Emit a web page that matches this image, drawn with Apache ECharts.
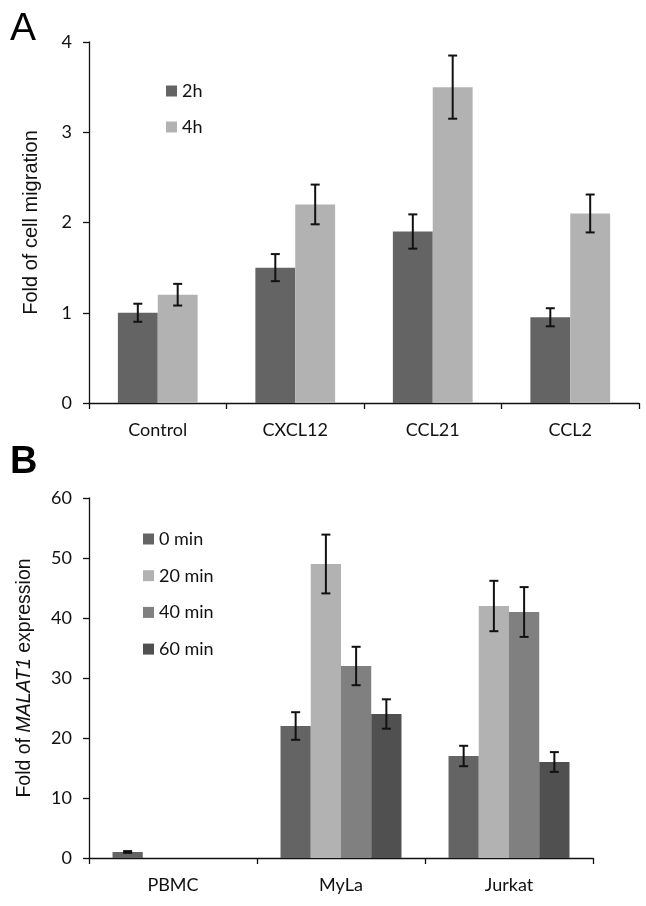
<!DOCTYPE html>
<html><head><meta charset="utf-8">
<script src="https://cdn.jsdelivr.net/npm/echarts@6/dist/echarts.min.js"></script>
<style>html,body{margin:0;padding:0;background:#fff}#c{width:646px;height:906px}</style>
</head><body><div id="c"></div>
<script>
// Panel A data
const catsA = ['Control', 'CXCL12', 'CCL21', 'CCL2'];
const seriesNamesA = ['2h', '4h'];
const valsA2h = [1.0, 1.5, 1.9, 0.95];
const errA2h = [0.10, 0.15, 0.19, 0.10];
const valsA4h = [1.2, 2.2, 3.5, 2.1];
const errA4h = [0.12, 0.22, 0.35, 0.21];
const ticksA = [0, 1, 2, 3, 4];

// Panel B data
const catsB = ['PBMC', 'MyLa', 'Jurkat'];
const seriesNamesB = ['0 min', '20 min', '40 min', '60 min'];
const valsB0 = [1.0, 22, 17];
const errB0 = [0.15, 2.3, 1.7];
const valsB20 = [null, 49, 42];
const errB20 = [null, 4.9, 4.2];
const valsB40 = [null, 32, 41];
const errB40 = [null, 3.2, 4.15];
const valsB60 = [null, 24, 16];
const errB60 = [null, 2.45, 1.65];
const ticksB = [0, 10, 20, 30, 40, 50, 60];

const colorsA = ['#646464', '#b2b2b2'];
const colorsB = ['#646464', '#b2b2b2', '#808080', '#505050'];
const bwA = 0.29, bwB = 0.18;
const LATO = 'Lato';
const FS = 18;

function errSeries(axisIdx, vals, errs, idx, n, frac) {
  const data = [];
  vals.forEach((v, i) => { if (v != null) data.push([i, v, errs[i]]); });
  return {
    type: 'custom', xAxisIndex: axisIdx, yAxisIndex: axisIdx, z: 5, silent: true,
    data: data,
    renderItem: function (params, api) {
      const ci = api.value(0), v = api.value(1), e = api.value(2);
      const c = api.coord([ci, v]);
      const band = api.size([1, 0])[0];
      const bw = band * frac;
      const x = c[0] - n * bw / 2 + bw * (idx + 0.5);
      const top = api.coord([ci, v + e])[1];
      const bot = api.coord([ci, v - e])[1];
      const cap = 4.5;
      const st = { stroke: '#111', lineWidth: 2 };
      return { type: 'group', children: [
        { type: 'line', shape: { x1: x, y1: top, x2: x, y2: bot }, style: st },
        { type: 'line', shape: { x1: x - cap, y1: top, x2: x + cap, y2: top }, style: st },
        { type: 'line', shape: { x1: x - cap, y1: bot, x2: x + cap, y2: bot }, style: st }
      ] };
    }
  };
}

function yAxisCfg(gi, ticks, nameRich, nameGap, nameSize) {
  return {
    gridIndex: gi, type: 'value', min: ticks[0], max: ticks[ticks.length - 1],
    interval: ticks[1] - ticks[0],
    axisLine: { show: true, lineStyle: { color: '#111', width: 1.3 } },
    axisTick: { show: true, length: 6, lineStyle: { color: '#111', width: 1.3 } },
    splitLine: { show: false },
    axisLabel: { margin: 17, color: '#111', fontFamily: LATO, fontSize: FS },
    name: nameRich.text, nameLocation: 'middle', nameGap: nameGap, nameRotate: 90,
    nameTextStyle: { color: '#111', fontFamily: 'Liberation Sans', fontSize: nameSize, rich: nameRich.rich }
  };
}
function xAxisCfg(gi, cats) {
  return {
    gridIndex: gi, type: 'category', data: cats,
    axisLine: { show: true, lineStyle: { color: '#111', width: 1.3 } },
    axisTick: { show: true, length: 6, interval: 0, alignWithLabel: false, lineStyle: { color: '#111', width: 1.3 } },
    axisLabel: { margin: 18, color: '#111', fontFamily: LATO, fontSize: FS, interval: 0 }
  };
}

const series = [];
[valsA2h, valsA4h].forEach((vals, i) => {
  series.push({ name: seriesNamesA[i], type: 'bar', xAxisIndex: 0, yAxisIndex: 0,
    data: vals, barWidth: (bwA * 100) + '%', barGap: '0%', itemStyle: { color: colorsA[i] } });
});
[[valsA2h, errA2h], [valsA4h, errA4h]].forEach((p, i) => series.push(errSeries(0, p[0], p[1], i, 2, bwA)));
const bVals = [valsB0, valsB20, valsB40, valsB60];
const bErrs = [errB0, errB20, errB40, errB60];
bVals.forEach((vals, i) => {
  series.push({ name: seriesNamesB[i], type: 'bar', xAxisIndex: 1, yAxisIndex: 1,
    data: vals.map(v => v == null ? '-' : v), barWidth: (bwB * 100) + '%', barGap: '0%', itemStyle: { color: colorsB[i] } });
});
bVals.forEach((vals, i) => series.push(errSeries(1, vals, bErrs[i], i, 4, bwB)));

const chart = echarts.init(document.getElementById('c'), null, { renderer: 'canvas' });
chart.setOption({
  animation: false,
  backgroundColor: '#fff',
  grid: [
    { left: 89, top: 42, width: 550, height: 361 },
    { left: 89, top: 498, width: 504, height: 360 }
  ],
  xAxis: [xAxisCfg(0, catsA), xAxisCfg(1, catsB)],
  yAxis: [
    yAxisCfg(0, ticksA, { text: 'Fold of cell migration', rich: {} }, 48, 20),
    yAxisCfg(1, ticksB, { text: '{n|Fold of }{i|MALAT1}{n| expression}', rich: {
      n: { fontFamily: 'Liberation Sans', fontSize: 19.5, color: '#111' },
      i: { fontFamily: 'Liberation Sans', fontSize: 19.5, color: '#111', fontStyle: 'italic' } } }, 54, 19.5)
  ],
  legend: [
    { data: seriesNamesA, orient: 'vertical', left: 161, top: 77, itemWidth: 11, itemHeight: 11, itemGap: 18,
      icon: 'rect', selectedMode: false, textStyle: { fontFamily: LATO, fontSize: FS, color: '#111', lineHeight: 18 } },
    { data: seriesNamesB, orient: 'vertical', left: 138, top: 525, itemWidth: 11, itemHeight: 11, itemGap: 18.7,
      icon: 'rect', selectedMode: false, textStyle: { fontFamily: LATO, fontSize: FS, color: '#111', lineHeight: 18 } }
  ],
  graphic: [
    { type: 'text', left: 10, top: 10, style: { text: 'A', font: '39px "Liberation Sans"', fill: '#000' } },
    { type: 'text', left: 10, top: 444, style: { text: 'B', font: 'bold 38px "Liberation Sans"', fill: '#000' } }
  ],
  series: series
});
</script></body></html>
